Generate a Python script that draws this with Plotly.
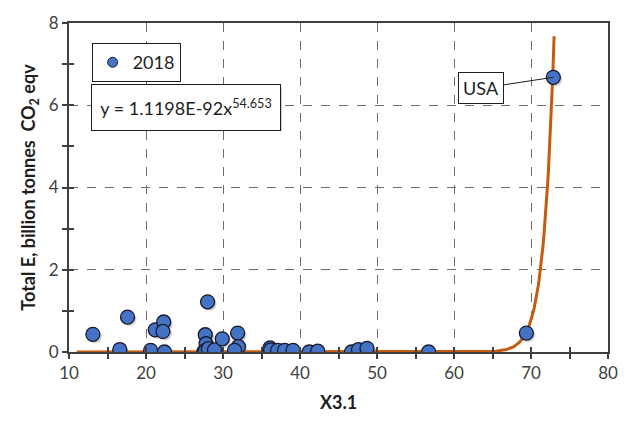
import numpy as np
import plotly.graph_objects as go

# data (x = X3.1, y = Total E in billion tonnes CO2 eqv), 2018
x_vals = [13.1, 16.6, 17.6, 20.6, 21.2, 22.3, 22.2, 22.4, 28.0, 27.7, 27.8, 27.5, 27.7,
          28.1, 28.9, 29.9, 31.9, 32.0, 31.5, 36.1, 36.2, 37.1, 38.0, 39.1, 41.2, 42.3,
          46.7, 47.6, 48.7, 56.7, 69.4, 72.9]
y_vals = [0.43, 0.06, 0.85, 0.04, 0.54, 0.73, 0.50, 0.00, 1.22, 0.42, 0.20, 0.00, 0.03,
          0.08, 0.05, 0.32, 0.46, 0.13, 0.04, 0.10, 0.05, 0.04, 0.04, 0.04, 0.00, 0.02,
          0.00, 0.06, 0.09, 0.00, 0.46, 6.68]
series_name = "2018"
label_name = "USA"

# power trendline y = a * x^b (in tonnes), plotted in billions
coef_a = 1.1198e-92
coef_b = 54.653
fit_x_min, fit_x_max = 11.0, 73.0

fit_x = np.linspace(fit_x_min, fit_x_max, 600)
fit_y = coef_a * fit_x ** coef_b / 1e9

FONT = "Lato"
AXC = "#404040"
TXT = "#1e1e1e"

fig = go.Figure()
# marker shadows
fig.add_trace(go.Scatter(x=np.array(x_vals) + 0.25, y=np.array(y_vals) - 0.05, mode="markers",
                         marker=dict(size=14, color="rgba(0,0,0,0.18)", line=dict(width=0)),
                         showlegend=False, hoverinfo="skip"))
fig.add_trace(go.Scatter(x=fit_x, y=fit_y, mode="lines",
                         line=dict(color="#C55A11", width=3), showlegend=False))
fig.add_trace(go.Scatter(x=x_vals, y=y_vals, mode="markers", name=series_name, showlegend=False,
                         marker=dict(size=14, color="#4472C4", line=dict(color="#1a1a2e", width=1.3))))
# legend entry with the small symbol used in the reference legend
fig.add_trace(go.Scatter(x=[None], y=[None], mode="markers", name=series_name,
                         marker=dict(size=10, color="#4472C4", line=dict(color="#1a1a2e", width=1))))

fig.update_layout(
    width=630, height=422,
    margin=dict(l=69, r=21, t=16, b=69),
    paper_bgcolor="white", plot_bgcolor="white",
    font=dict(family=FONT, size=17, color=AXC),
    legend=dict(x=0.042, y=0.939, xanchor="left", yanchor="top",
                bgcolor="white", bordercolor=TXT, borderwidth=1,
                font=dict(size=18, color=TXT), itemwidth=30),
    xaxis=dict(range=[10, 80], dtick=10, tick0=10, ticks="outside", ticklen=5,
               tickcolor=AXC, tickwidth=1.5,
               showline=True, linecolor=AXC, linewidth=2, mirror=True,
               showgrid=True, gridcolor="#6f6f6f", griddash="dash", gridwidth=1,
               zeroline=False,
               minor=dict(dtick=5, tick0=10, ticks="outside", ticklen=5, tickcolor=AXC, showgrid=False),
               title=dict(text="<b>X3.1</b>", font=dict(size=18, color=TXT), standoff=14),
               tickfont=dict(size=17, color=AXC)),
    yaxis=dict(range=[0, 8], dtick=2, ticks="outside", ticklen=5,
               tickcolor=AXC, tickwidth=1.5,
               showline=True, linecolor=AXC, linewidth=2, mirror=True,
               showgrid=True, gridcolor="#6f6f6f", griddash="dash", gridwidth=1,
               zeroline=False,
               minor=dict(dtick=1, ticks="outside", ticklen=5, tickcolor=AXC, showgrid=False),
               title=dict(text="<b>Total E, billion tonnes  CO<sub>2</sub> eqv</b>",
                          font=dict(size=18, color=TXT), standoff=8),
               tickfont=dict(size=17, color=AXC)),
    xaxis2=dict(range=[10, 80], overlaying="x", side="bottom", dtick=5, tick0=10,
                ticks="inside", ticklen=5, tickcolor=AXC, tickwidth=1.5,
                showticklabels=False, showgrid=False, zeroline=False, showline=False),
    yaxis2=dict(range=[0, 8], overlaying="y", side="left", dtick=1,
                ticks="inside", ticklen=5, tickcolor=AXC, tickwidth=1.5,
                showticklabels=False, showgrid=False, zeroline=False, showline=False),
)
# dummy trace to activate secondary axes
fig.add_trace(go.Scatter(x=[10], y=[0], xaxis="x2", yaxis="y2", mode="markers",
                         marker=dict(size=1, opacity=0), showlegend=False, hoverinfo="skip"))

# equation box shadow (rectangle in paper coords)
fig.add_shape(type="rect", xref="paper", yref="paper",
              x0=0.047, x1=0.047 + 188 / 540, y0=0.815 - 45 / 337 - 0.010, y1=0.815 - 0.010,
              fillcolor="rgba(0,0,0,0.2)", line=dict(width=0), layer="above")
fig.add_annotation(xref="paper", yref="paper", x=0.040, y=0.815, xanchor="left", yanchor="top",
                   text="y = 1.1198E-92x<sup>54.653</sup>", width=186, height=43,
                   font=dict(size=18, color=TXT, family=FONT),
                   bgcolor="white", bordercolor=TXT, borderwidth=1, showarrow=False)

# USA callout
fig.add_annotation(x=x_vals[-1], y=y_vals[-1], text=label_name, showarrow=True,
                   arrowhead=0, arrowwidth=1, arrowcolor=TXT,
                   ax=-72, ay=11, width=42, height=28,
                   font=dict(size=18, color=TXT, family=FONT),
                   bgcolor="white", bordercolor=TXT, borderwidth=1)

fig.write_html("out.html")
